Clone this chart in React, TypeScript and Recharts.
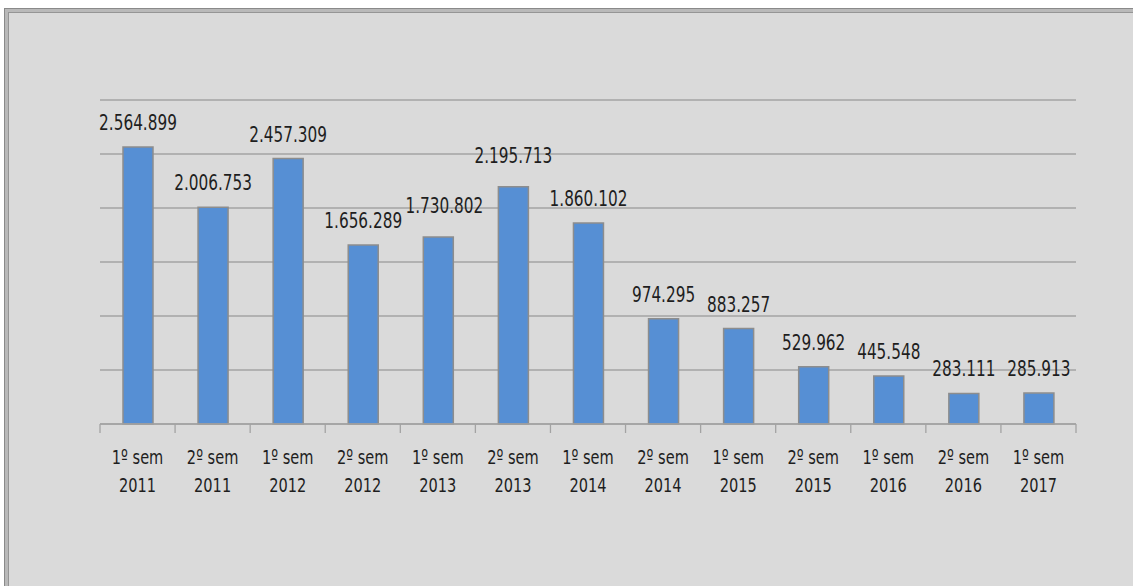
import { BarChart, Bar, XAxis, YAxis, CartesianGrid, LabelList } from 'recharts';

const semesters = [
  '1º sem 2011',
  '2º sem 2011',
  '1º sem 2012',
  '2º sem 2012',
  '1º sem 2013',
  '2º sem 2013',
  '1º sem 2014',
  '2º sem 2014',
  '1º sem 2015',
  '2º sem 2015',
  '1º sem 2016',
  '2º sem 2016',
  '1º sem 2017',
];

const totals = [
  2564899, 2006753, 2457309, 1656289, 1730802, 2195713, 1860102, 974295, 883257, 529962, 445548,
  283111, 285913,
];

const yTicks = [0, 500000, 1000000, 1500000, 2000000, 2500000, 3000000];

const data = semesters.map((name, i) => ({ name, total: totals[i] }));

const W = 1133;
const H = 586;
const margin = { top: 100, right: 57, bottom: 132, left: 100 };
const band = (W - margin.left - margin.right) / semesters.length;

const FONT = "'DejaVu Sans Condensed', 'DejaVu Sans', sans-serif";
const SQUEEZE = 0.81; // Calibri-like narrow text
const GRID = '#a3a3a3';
const TEXT = '#1e1e1e';

// Excel moved a couple of labels up to keep them from overlapping
const labelNudge: Record<number, { dx: number; dy: number }> = {
  4: { dx: 6, dy: -7 },
  5: { dx: 0, dy: -7 },
};

const fmt = (v: number) => v.toString().replace(/\B(?=(\d{3})+(?!\d))/g, '.');

function NarrowText({ x, y, size, children }: { x: number; y: number; size: number; children: any }) {
  return (
    <text
      transform={`translate(${x},${y}) scale(${SQUEEZE},1)`}
      textAnchor="middle"
      fontFamily={FONT}
      fontSize={size}
      fill={TEXT}
    >
      {children}
    </text>
  );
}

function SemTick(props: any) {
  const { x, y, payload, index } = props;
  const label: string = payload.value;
  const cut = label.lastIndexOf(' ');
  const isLast = index === semesters.length - 1;
  return (
    <g>
      <line x1={x - band / 2} y1={y} x2={x - band / 2} y2={y + 9} stroke={GRID} strokeWidth={1.3} />
      {isLast && (
        <line x1={x + band / 2} y1={y} x2={x + band / 2} y2={y + 9} stroke={GRID} strokeWidth={1.3} />
      )}
      <NarrowText x={x} y={y + 40} size={20}>
        {label.slice(0, cut)}
      </NarrowText>
      <NarrowText x={x} y={y + 68} size={20}>
        {label.slice(cut + 1)}
      </NarrowText>
    </g>
  );
}

function ValueLabel(props: any) {
  const { x, y, width, value, index } = props;
  const n = labelNudge[index] ?? { dx: 0, dy: 0 };
  return (
    <NarrowText x={x + width / 2 + n.dx} y={y - 17 + n.dy} size={21}>
      {fmt(value)}
    </NarrowText>
  );
}

export default function App() {
  return (
    <div
      style={{
        position: 'absolute',
        left: 0,
        top: 0,
        width: W,
        height: H,
        overflow: 'hidden',
        background: '#fff',
      }}
    >
      <div
        style={{
          position: 'absolute',
          left: 4,
          top: 8,
          width: W + 20,
          height: H + 20,
          background: '#dadada',
          border: '1px solid #8a8a8a',
          boxShadow: 'inset 0 0 0 3px #b9b9b9, inset 0 0 0 4px #959595',
        }}
      />
      <div style={{ position: 'absolute', left: 0, top: 0 }}>
        <BarChart width={W} height={H} data={data} margin={margin}>
          <CartesianGrid vertical={false} stroke={GRID} strokeWidth={1.3} />
          <XAxis
            dataKey="name"
            interval={0}
            tickLine={false}
            tickSize={0}
            tickMargin={0}
            axisLine={{ stroke: GRID, strokeWidth: 1.3 }}
            tick={<SemTick />}
          />
          <YAxis
            width={0}
            domain={[0, 3000000]}
            ticks={yTicks}
            tickSize={7}
            tick={() => <g />}
            tickLine={{ stroke: GRID, strokeWidth: 1.3 }}
            axisLine={{ stroke: GRID, strokeWidth: 1.3 }}
          />
          <Bar dataKey="total" fill="#568fd4" stroke="#8d8d8d" strokeWidth={1.5} barSize={30} isAnimationActive={false}>
            <LabelList dataKey="total" content={<ValueLabel />} />
          </Bar>
        </BarChart>
      </div>
    </div>
  );
}
